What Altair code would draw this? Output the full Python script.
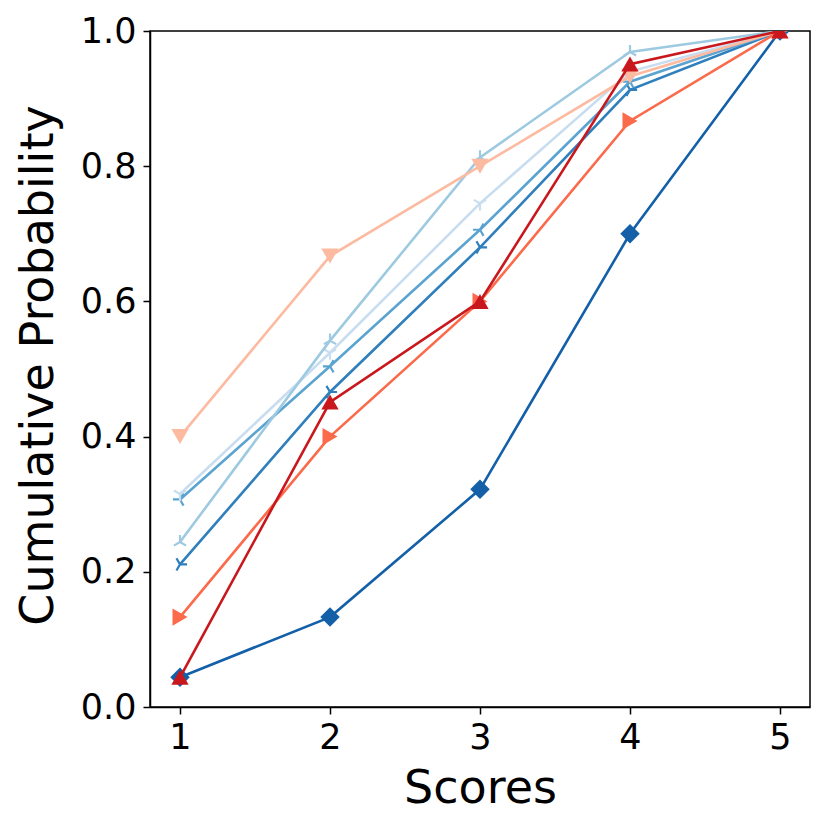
import altair as alt
import pandas as pd

scores = [1, 2, 3, 4, 5]

series_names = ["s_vlight", "s_light", "s_medium", "s_dark", "s_diamond",
                "s_salmon", "s_orange", "s_red"]
s_vlight = [0.315, 0.524, 0.745, 0.940, 1.0]
s_light = [0.244, 0.542, 0.813, 0.969, 1.0]
s_medium = [0.307, 0.504, 0.706, 0.925, 1.0]
s_dark = [0.211, 0.466, 0.680, 0.913, 1.0]
s_diamond = [0.044, 0.133, 0.322, 0.700, 1.0]
s_salmon = [0.400, 0.667, 0.800, 0.933, 1.0]
s_orange = [0.133, 0.400, 0.600, 0.867, 1.0]
s_red = [0.044, 0.451, 0.600, 0.951, 1.0]

colors = ["#c9ddf0", "#9ecae1", "#5ba3d0", "#2f7fbc", "#1360a8",
          "#fcbba1", "#fb6a4a", "#c9181d"]
TRI_DOWN = "M0,0L0,1M0,0L-0.866,-0.5M0,0L0.866,-0.5"
TRI_UP = "M0,0L0,-1M0,0L-0.866,0.5M0,0L0.866,0.5"
TRI_LEFT = "M0,0L-1,0M0,0L0.5,-0.866M0,0L0.5,0.866"
TRI_RIGHT = "M0,0L1,0M0,0L-0.5,-0.866M0,0L-0.5,0.866"
shapes = [TRI_DOWN, TRI_UP, TRI_LEFT, TRI_RIGHT, "diamond",
          "triangle-down", "triangle-right", "triangle-up"]
filled_flags = [False, False, False, False, True, True, True, True]
sizes = [200, 200, 200, 200, 380, 300, 300, 300]

all_vals = [s_vlight, s_light, s_medium, s_dark, s_diamond, s_salmon, s_orange, s_red]
rows = []
for i, (name, vals) in enumerate(zip(series_names, all_vals)):
    for x, y in zip(scores, vals):
        rows.append({"series": name, "x": x, "y": y})
df = pd.DataFrame(rows)

# drawing order: diamond first, then other blues, then reds
draw_order = ["s_diamond", "s_dark", "s_medium", "s_vlight", "s_light",
              "s_salmon", "s_orange", "s_red"]

xscale = alt.Scale(domain=[0.8, 5.2], nice=False, zero=False)
yscale = alt.Scale(domain=[0, 1], nice=False)

xaxis = alt.Axis(values=scores, format="d", title="Scores", grid=False,
                 labelFont="DejaVu Sans", labelFontSize=35, labelColor="black",
                 titleFont="DejaVu Sans", titleFontSize=46, titleFontWeight="normal",
                 titleColor="black", tickColor="black", tickWidth=1.5, tickSize=7,
                 domainColor="black", domainWidth=1.5, labelPadding=6,
                 titleY=95, titleBaseline="alphabetic", titleX=330)
yaxis = alt.Axis(values=[0, 0.2, 0.4, 0.6, 0.8, 1.0], format=".1f",
                 title="Cumulative Probability", grid=False,
                 labelFont="DejaVu Sans", labelFontSize=35, labelColor="black",
                 titleFont="DejaVu Sans", titleFontSize=46, titleFontWeight="normal",
                 titleColor="black", tickColor="black", tickWidth=1.5, tickSize=7,
                 domainColor="black", domainWidth=1.5, labelPadding=7,
                 titleX=-112, titleY=334, titleAngle=-90, titleAlign="center",
                 titleBaseline="middle")

layers = []
for name in draw_order:
    i = series_names.index(name)
    sub = df[df.series == name]
    base = alt.Chart(sub)
    line = base.mark_line(strokeWidth=2.6, clip=True, color=colors[i]).encode(
        x=alt.X("x:Q", scale=xscale, axis=xaxis),
        y=alt.Y("y:Q", scale=yscale, axis=yaxis),
    )
    if filled_flags[i]:
        pts = base.mark_point(filled=True, size=sizes[i], opacity=1, clip=True,
                              color=colors[i], shape=shapes[i]).encode(
            x=alt.X("x:Q", scale=xscale), y=alt.Y("y:Q", scale=yscale))
    else:
        pts = base.mark_point(filled=False, size=sizes[i], opacity=1, clip=True,
                              strokeWidth=2.2, color=colors[i], shape=shapes[i]).encode(
            x=alt.X("x:Q", scale=xscale), y=alt.Y("y:Q", scale=yscale))
    layers += [line, pts]

chart = alt.layer(*layers).properties(
    width=660, height=676,
    autosize=alt.AutoSizeParams(type="none"),
    padding={"left": 142, "top": 23, "right": 10, "bottom": 115},
).configure_view(stroke="black", strokeWidth=1.5)

chart.save("out.html", embed_options={"renderer": "svg", "actions": False})
